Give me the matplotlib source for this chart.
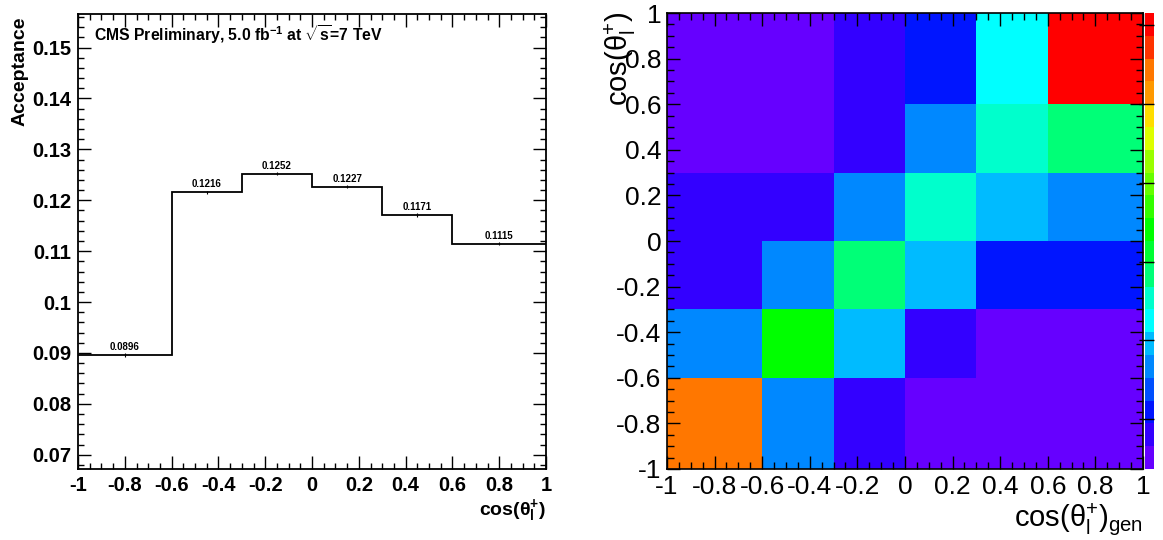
import numpy as np
import matplotlib
matplotlib.use("Agg")
import matplotlib.pyplot as plt
from matplotlib.colors import ListedColormap, Normalize
from matplotlib.ticker import MultipleLocator

plt.rcParams["font.family"] = ["Liberation Sans", "DejaVu Sans"]
plt.rcParams["axes.unicode_minus"] = False
plt.rcParams["mathtext.fontset"] = "custom"
plt.rcParams["mathtext.rm"] = "Liberation Sans"
plt.rcParams["mathtext.it"] = "Liberation Sans:italic"
plt.rcParams["mathtext.bf"] = "Liberation Sans:bold"

# binning in cos(theta_l+)
bin_edges = [-1.0, -0.6, -0.3, 0.0, 0.3, 0.6, 1.0]

# acceptance per bin
acceptance = [0.0896, 0.1216, 0.1252, 0.1227, 0.1171, 0.1115]
acceptance_err = [0.0003, 0.0003, 0.0003, 0.0003, 0.0003, 0.0003]
acceptance_text = ["0.0896", "0.1216", "0.1252", "0.1227", "0.1171", "0.1115"]

# migration matrix: rows = reco bins (bottom->top), cols = gen bins (left->right)
migration = [
    [0.545, 0.168, 0.081, 0.052, 0.044, 0.040],
    [0.170, 0.335, 0.196, 0.078, 0.049, 0.046],
    [0.083, 0.165, 0.283, 0.197, 0.108, 0.105],
    [0.072, 0.079, 0.166, 0.254, 0.195, 0.167],
    [0.042, 0.048, 0.086, 0.171, 0.256, 0.281],
    [0.037, 0.041, 0.075, 0.112, 0.224, 0.615],
]

x_ticks = [-1, -0.8, -0.6, -0.4, -0.2, 0, 0.2, 0.4, 0.6, 0.8, 1]
x_tick_labels = ["-1", "-0.8", "-0.6", "-0.4", "-0.2", "0", "0.2", "0.4", "0.6", "0.8", "1"]
acc_ticks = [0.07, 0.08, 0.09, 0.10, 0.11, 0.12, 0.13, 0.14, 0.15]
acc_tick_labels = ["0.07", "0.08", "0.09", "0.1", "0.11", "0.12", "0.13", "0.14", "0.15"]
cbar_ticks = [0.1, 0.2, 0.3, 0.4, 0.5, 0.6]

# ROOT-like 20 level palette
palette = ['#6600ff', '#3300ff', '#0015ff', '#0050ff', '#0088ff', '#00bbff', '#00ffff',
           '#00ffcc', '#00ff77', '#00ff33', '#00ff00', '#33ff00', '#66ff00', '#99ff00',
           '#ddff00', '#ffdd00', '#ff9900', '#ff7700', '#ff3300', '#ff0000']

fig = plt.figure(figsize=(11.63, 5.40), dpi=100)

# ---- left: acceptance ----
ax1 = fig.add_axes([0.0671, 0.1315, 0.4024, 0.8426])
edges = np.array(bin_edges)
centers = 0.5 * (edges[:-1] + edges[1:])
ax1.stairs(acceptance, edges, color="black", lw=1.3, baseline=None)
ax1.errorbar(centers, acceptance, yerr=acceptance_err, fmt="none", ecolor="black", lw=0.8)
for c, v, t in zip(centers, acceptance, acceptance_text):
    ax1.annotate(t, (c, v), xytext=(0, 2), textcoords="offset points",
                 ha="center", va="bottom", fontsize=7, fontweight="bold")
ax1.set_xlim(-1, 1)
ax1.set_ylim(0.0672, 0.1566)
ax1.set_xticks(x_ticks)
ax1.set_xticklabels(x_tick_labels)
ax1.set_yticks(acc_ticks)
ax1.set_yticklabels(acc_tick_labels)
ax1.xaxis.set_minor_locator(MultipleLocator(0.05))
ax1.yaxis.set_minor_locator(MultipleLocator(0.002))
ax1.tick_params(which="both", direction="in", top=True, right=True, width=1.0)
ax1.tick_params(which="major", length=9.5, labelsize=14.5, pad=5)
ax1.tick_params(which="minor", length=4.5)
for lab in ax1.get_xticklabels() + ax1.get_yticklabels():
    lab.set_fontweight("bold")
for s in ax1.spines.values():
    s.set_linewidth(1.3)
ax1.text(0.035, 0.955, r"CMS Preliminary, 5.0 fb$^{\mathbf{-1}}$ at $\sqrt{\mathbf{s}}$=7 TeV",
         transform=ax1.transAxes, ha="left", va="center", fontsize=11.3, fontweight="bold")
fig.text(20 / 1163, 1 - 16 / 540, "Acceptance", rotation=90, ha="center", va="top",
         fontsize=14, fontweight="bold")
fig.text(546 / 1163, 1 - 510 / 540, r"$\mathbf{cos(\theta_{l}^{+})}$", ha="right", va="center",
         fontsize=14)

# ---- right: migration matrix ----
ax2 = fig.add_axes([0.5735, 0.1315, 0.4093, 0.8444])
mig = np.array(migration)
cmap = ListedColormap(palette)
norm = Normalize(vmin=mig.min(), vmax=mig.max())
mesh = ax2.pcolormesh(edges, edges, mig, cmap=cmap, norm=norm)
ax2.set_xlim(-1, 1)
ax2.set_ylim(-1, 1)
ax2.set_xticks(x_ticks)
ax2.set_xticklabels(x_tick_labels)
ax2.set_yticks(x_ticks)
ax2.set_yticklabels(x_tick_labels)
ax2.xaxis.set_minor_locator(MultipleLocator(0.05))
ax2.yaxis.set_minor_locator(MultipleLocator(0.05))
ax2.tick_params(which="both", direction="in", top=True, right=True, width=1.0)
ax2.tick_params(which="major", length=9.5, labelsize=19, pad=4)
ax2.tick_params(which="minor", length=5)
for s in ax2.spines.values():
    s.set_linewidth(1.2)
fig.text(620 / 1163, 1 - 12 / 540, r"cos($\mathrm{\theta}_{\mathrm{l}}^{+}$)", rotation=90,
         ha="center", va="top", fontsize=21)
fig.text(1143 / 1163, 1 - 538 / 540, r"cos($\mathrm{\theta}_{\mathrm{l}}^{+}$)$_{\mathrm{gen}}$",
         ha="right", va="bottom", fontsize=21)

cax = fig.add_axes([1145 / 1163, 0.1315, 9 / 1163, 0.8444])
cb = fig.colorbar(mesh, cax=cax)
cb.outline.set_visible(False)
cb.set_ticks(cbar_ticks)
cax.tick_params(direction="in", length=11, width=1.0, right=True, labelright=False)

fig.savefig("out.png", dpi=100)
